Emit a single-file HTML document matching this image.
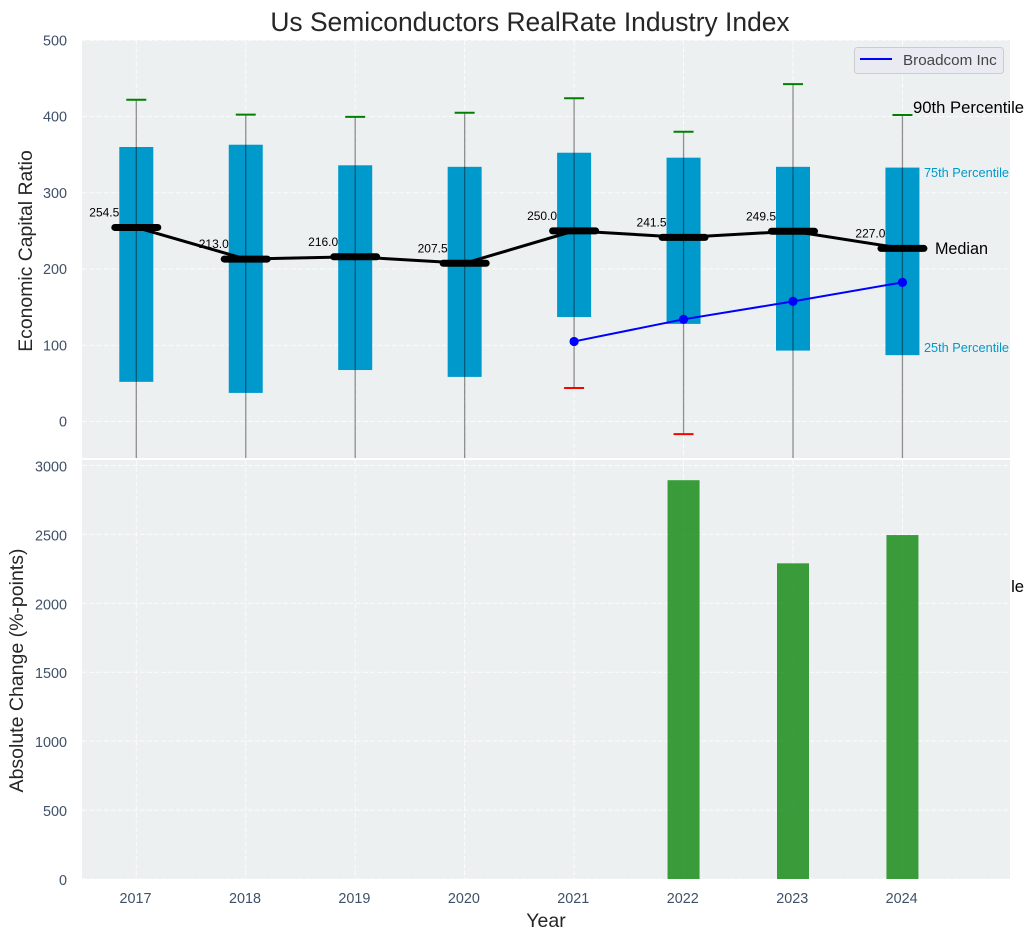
<!DOCTYPE html>
<html>
<head>
<meta charset="utf-8">
<title>Us Semiconductors RealRate Industry Index</title>
<style>
html,body{margin:0;padding:0;background:#fff;width:1034px;height:940px;overflow:hidden}
svg{display:block;font-family:"Liberation Sans",sans-serif}
</style>
</head>
<body>
<svg id="chart" xmlns="http://www.w3.org/2000/svg" width="1034" height="940" viewBox="0 0 1034 940">
  <defs><clipPath id="top-clip"><rect x="82" y="40" width="928" height="418"></rect></clipPath></defs>
  <rect x="82" y="40" width="928" height="418" fill="#ecf0f1"></rect>
  <g id="top-grid"></g>
  <g id="top-marks" clip-path="url(#top-clip)"></g>
  <g id="top-labels"></g>
  <rect x="0" y="458" width="1010" height="2" fill="#ffffff"></rect>
  <rect x="82" y="460" width="928" height="419" fill="#ecf0f1"></rect>
  <g id="bottom-grid"></g>
  <g id="bottom-marks"></g>
  <g id="ticks"></g>
  <text x="530" y="31" text-anchor="middle" font-size="26.4" fill="#262626">Us Semiconductors RealRate Industry Index</text>
  <text transform="translate(32,251) rotate(-90)" text-anchor="middle" font-size="19.4" fill="#262626">Economic Capital Ratio</text>
  <text transform="translate(23,670.5) rotate(-90)" text-anchor="middle" font-size="19.5" fill="#262626">Absolute Change (%-points)</text>
  <text x="546" y="927" text-anchor="middle" font-size="19.5" fill="#262626">Year</text>
  <g>
    <rect x="854.5" y="47.5" width="149" height="26" rx="3" fill="#eaeaf2" fill-opacity="0.8" stroke="#cccccc"></rect>
    <line x1="860" y1="59" x2="892" y2="59" stroke="#0000ff" stroke-width="2"></line>
    <text x="903" y="65" font-size="15.2" fill="#444444">Broadcom Inc</text>
  </g>
</svg>
<script>
const years = ["2017", "2018", "2019", "2020", "2021", "2022", "2023", "2024"];
const p10 = [-95, -120, -80, -110, 44, -16.5, -140, -216];
const p25 = [52, 37.5, 67.5, 58.5, 137, 128, 93, 87];
const medians = [254.5, 213.0, 216.0, 207.5, 250.0, 241.5, 249.5, 227.0];
const p75 = [360, 363, 336, 334, 352.5, 346, 334, 333];
const p90 = [422, 402.5, 399.5, 405, 424, 380, 442.5, 402];
const broadcom = [null, null, null, null, 105, 134, 157.5, 182.5];
const absoluteChange = [null, null, null, null, null, 2893, 2290, 2495];
const topTicks = [0, 100, 200, 300, 400, 500];
const bottomTicks = [0, 500, 1000, 1500, 2000, 2500, 3000];

const NS = "http://www.w3.org/2000/svg";
function xPos(i) { return 136.3 + i * 109.45; }
function yTop(v) { return 421.5 - v * 0.7625; }
function yBottom(v) { return 879 - v * 0.13785; }
function make(parent, tag, attrs, text) {
  const el = document.createElementNS(NS, tag);
  for (const k in attrs) el.setAttribute(k, attrs[k]);
  if (text !== undefined) el.textContent = text;
  document.getElementById(parent).appendChild(el);
  return el;
}
const gridStyle = { stroke: "#ffffff", "stroke-width": 1, "stroke-dasharray": "5 2.2", "stroke-opacity": 0.8 };

topTicks.forEach(function (t) {
  const g = make("top-grid", "line", Object.assign({ x1: 82, x2: 1010, y1: yTop(t), y2: yTop(t) }, gridStyle));
  
  
  const l = make("ticks", "text", { x: 67, y: yTop(t) + 5, "text-anchor": "end", "font-size": 14.4, fill: "#3f5168" }, String(t));
  
  
});
bottomTicks.forEach(function (t) {
  const g = make("bottom-grid", "line", Object.assign({ x1: 82, x2: 1010, y1: yBottom(t), y2: yBottom(t) }, gridStyle));
  
  
  const l = make("ticks", "text", { x: 67, y: yBottom(t) + 6, "text-anchor": "end", "font-size": 14.4, fill: "#3f5168" }, String(t));
  
  
});

years.forEach(function (year, i) {
  const x = xPos(i);
  const g1 = make("top-grid", "line", Object.assign({ x1: x, x2: x, y1: 40, y2: 458 }, gridStyle));
  
  
  const g2 = make("bottom-grid", "line", Object.assign({ x1: x, x2: x, y1: 460, y2: 879 }, gridStyle));
  
  
  const tick = make("ticks", "text", { x: x - 0.8, y: 903, "text-anchor": "middle", "font-size": 14.4, fill: "#3f5168" }, year);
  
  

  const box = make("top-marks", "rect", { x: x - 17, y: yTop(p75[i]), width: 34, height: yTop(p25[i]) - yTop(p75[i]), fill: "#0099cc" });
  
  
});

years.forEach(function (year, i) {
  const x = xPos(i);
  const whisker = make("top-marks", "line", { x1: x, x2: x, y1: yTop(p90[i]), y2: yTop(p10[i]), stroke: "#000000", "stroke-opacity": 0.42, "stroke-width": 1.3 });
  
  
  const capHi = make("top-marks", "line", { x1: x - 10, x2: x + 10, y1: yTop(p90[i]), y2: yTop(p90[i]), stroke: "#008000", "stroke-width": 2 });
  
  
  const capLo = make("top-marks", "line", { x1: x - 10, x2: x + 10, y1: yTop(p10[i]), y2: yTop(p10[i]), stroke: "#ff0000", "stroke-width": 2 });
  
  
});

const medianPath = make("top-marks", "polyline", {
  points: medians.map(function (m, i) { return xPos(i) + "," + yTop(m); }).join(" "),
  fill: "none", stroke: "#000000", "stroke-width": 3
});



medians.forEach(function (m, i) {
  const x = xPos(i);
  const bar = make("top-marks", "line", { x1: x - 21.5, x2: x + 21.5, y1: yTop(m), y2: yTop(m), stroke: "#000000", "stroke-width": 7, "stroke-linecap": "round" });
  
  
  const label = make("top-labels", "text", { x: x - 17, y: yTop(m) - 11, "text-anchor": "end", "font-size": 12, fill: "#000000" }, m.toFixed(1));
  
  
});

const bcPts = [];
broadcom.forEach(function (v, i) { if (v !== null) bcPts.push(xPos(i) + "," + yTop(v)); });
const bcLine = make("top-marks", "polyline", { points: bcPts.join(" "), fill: "none", stroke: "#0000ff", "stroke-width": 2 });


broadcom.forEach(function (v, i) {
  if (v === null) return;
  const dot = make("top-marks", "circle", { cx: xPos(i), cy: yTop(v), r: 4.6, fill: "#0000ff" });
  
  
});

absoluteChange.forEach(function (v, i) {
  if (v === null) return;
  const bar = make("bottom-marks", "rect", { x: xPos(i) - 16, y: yBottom(v), width: 32, height: yBottom(0) - yBottom(v), fill: "#008000", "fill-opacity": 0.76 });
  
  
});

const last = years.length - 1;
const lastX = xPos(last);
const a90 = make("top-labels", "text", { x: lastX + 10.5, y: yTop(p90[last]) - 2, "font-size": 16.67, fill: "#000000" }, "90th Percentile");


const a75 = make("top-labels", "text", { x: lastX + 21.5, y: yTop(p75[last]) + 9.5, "font-size": 12.75, fill: "#0099cc" }, "75th Percentile");


const aMed = make("top-labels", "text", { x: lastX + 32.5, y: yTop(medians[last]) + 5.5, "font-size": 16.2, fill: "#000000" }, "Median");


const a25 = make("top-labels", "text", { x: lastX + 21.5, y: yTop(p25[last]) - 3, "font-size": 12.75, fill: "#0099cc" }, "25th Percentile");


const a10 = make("top-labels", "text", { x: lastX + 10.5, y: yTop(p10[last]) + 6, "font-size": 16.67, fill: "#000000" }, "10th Percentile");


</script>
</body>
</html>
